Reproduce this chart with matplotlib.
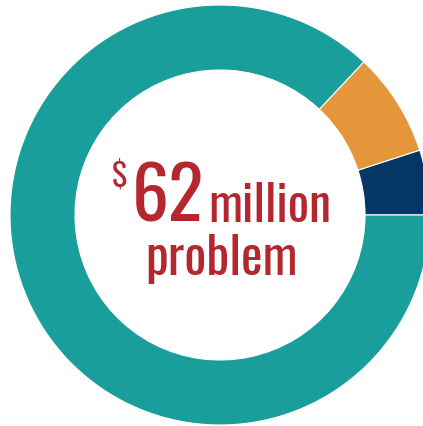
import matplotlib
matplotlib.use('Agg')
import matplotlib.pyplot as plt
from matplotlib import font_manager

# Share of the $62 million problem (percent), read from the ring
labels = ['Navy share', 'Orange share', 'Teal share']
shares = [5, 8, 87]
colors = ['#053764', '#E5963A', '#1A9E9B']

amount = '62'
unit = 'million'
line2 = 'problem'

names = {f.name for f in font_manager.fontManager.ttflist}
family = next(n for n in ['Oswald', 'Barlow Condensed', 'Asap Condensed', 'DejaVu Sans']
              if n in names)
red = '#B5272F'

fig = plt.figure(figsize=(4.23, 4.27), dpi=100)
ax = fig.add_axes([0, 0, 1, 1])

ax.pie(shares, colors=colors, startangle=0, counterclock=True,
       center=(220, 211), radius=210,
       wedgeprops=dict(width=65, edgecolor='white', linewidth=0.8))

# pie() resets the limits, so set pixel-like limits afterwards
ax.set_xlim(0, 423)
ax.set_ylim(0, 427)
ax.set_aspect('equal')
ax.axis('off')

# Centre label
ax.text(112, 240, r'\$', color=red, fontsize=23, fontweight='bold',
        family=family, ha='left', va='baseline')
ax.text(132, 205, amount, color=red, fontsize=53, fontweight='bold',
        family=family, ha='left', va='baseline')
ax.text(208, 205, unit, color=red, fontsize=36, fontweight='bold',
        family=family, ha='left', va='baseline')
ax.text(221, 152, line2, color=red, fontsize=37, fontweight='bold',
        family=family, ha='center', va='baseline')

fig.savefig('out.png', dpi=100)
